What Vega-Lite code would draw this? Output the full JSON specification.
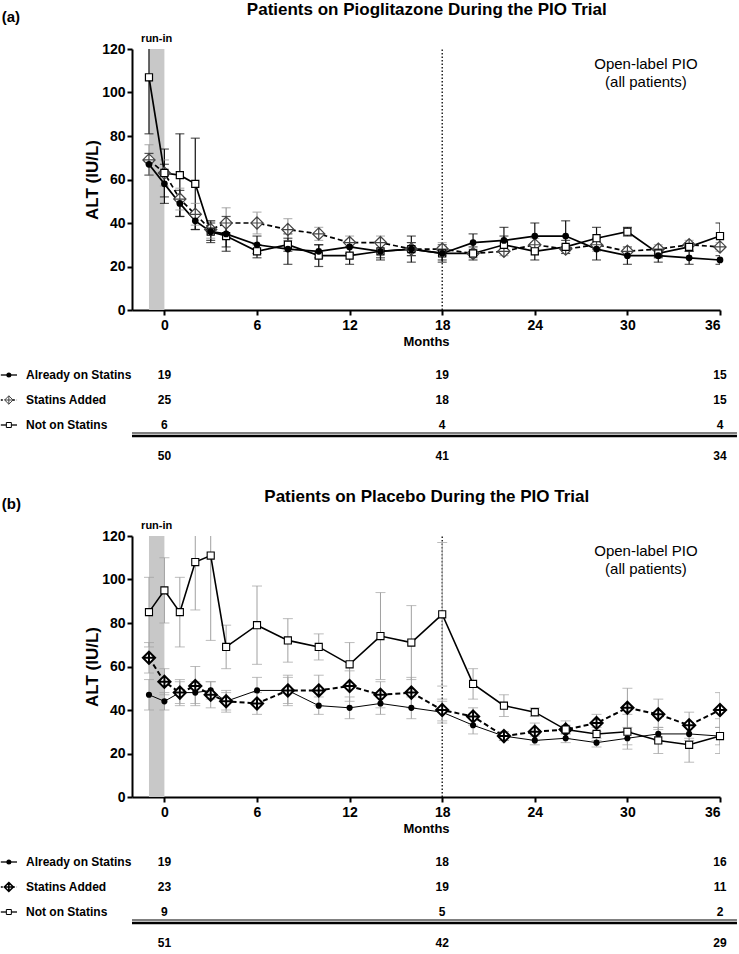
{
"$schema": "https://vega.github.io/schema/vega-lite/v6.json",
"padding": 0,
"config": {"view": {"stroke": null}, "font": "Liberation Sans",
 "axis": {"domainColor": "black", "domainWidth": 2, "tickColor": "black", "tickWidth": 2, "tickSize": 5, "labelFont": "Liberation Sans", "labelFontWeight": "bold", "labelFontSize": 14, "labelColor": "black", "titleFont": "Liberation Sans", "titleFontWeight": "bold", "titleColor": "black", "grid": false}},
"datasets": {
"one": [{"k": 1}],
"series": [
{"panel":"a","group":"Already on Statins","month":-1,"alt":67,"lo":62,"hi":72},
{"panel":"a","group":"Already on Statins","month":0,"alt":58,"lo":49,"hi":67},
{"panel":"a","group":"Already on Statins","month":1,"alt":49,"lo":43,"hi":55},
{"panel":"a","group":"Already on Statins","month":2,"alt":41,"lo":37,"hi":45},
{"panel":"a","group":"Already on Statins","month":3,"alt":36,"lo":32,"hi":40},
{"panel":"a","group":"Already on Statins","month":4,"alt":35,"lo":27,"hi":43},
{"panel":"a","group":"Already on Statins","month":6,"alt":30,"lo":26,"hi":34},
{"panel":"a","group":"Already on Statins","month":8,"alt":28,"lo":21,"hi":35},
{"panel":"a","group":"Already on Statins","month":10,"alt":27,"lo":24,"hi":30},
{"panel":"a","group":"Already on Statins","month":12,"alt":29,"lo":26,"hi":32},
{"panel":"a","group":"Already on Statins","month":14,"alt":27,"lo":23,"hi":31},
{"panel":"a","group":"Already on Statins","month":16,"alt":28,"lo":22,"hi":34},
{"panel":"a","group":"Already on Statins","month":18,"alt":26,"lo":22,"hi":30},
{"panel":"a","group":"Already on Statins","month":20,"alt":31,"lo":27,"hi":35},
{"panel":"a","group":"Already on Statins","month":22,"alt":32,"lo":26,"hi":38},
{"panel":"a","group":"Already on Statins","month":24,"alt":34,"lo":28,"hi":40},
{"panel":"a","group":"Already on Statins","month":26,"alt":34,"lo":27,"hi":41},
{"panel":"a","group":"Already on Statins","month":28,"alt":28,"lo":23,"hi":33},
{"panel":"a","group":"Already on Statins","month":30,"alt":25,"lo":21,"hi":29},
{"panel":"a","group":"Already on Statins","month":32,"alt":25,"lo":22,"hi":28},
{"panel":"a","group":"Already on Statins","month":34,"alt":24,"lo":21,"hi":27},
{"panel":"a","group":"Already on Statins","month":36,"alt":23,"lo":21,"hi":25},
{"panel":"a","group":"Statins Added","month":-1,"alt":69,"lo":62,"hi":76},
{"panel":"a","group":"Statins Added","month":0,"alt":63,"lo":57,"hi":69},
{"panel":"a","group":"Statins Added","month":1,"alt":51,"lo":46,"hi":56},
{"panel":"a","group":"Statins Added","month":2,"alt":44,"lo":39,"hi":49},
{"panel":"a","group":"Statins Added","month":3,"alt":37,"lo":33,"hi":41},
{"panel":"a","group":"Statins Added","month":4,"alt":40,"lo":33,"hi":47},
{"panel":"a","group":"Statins Added","month":6,"alt":40,"lo":35,"hi":45},
{"panel":"a","group":"Statins Added","month":8,"alt":37,"lo":32,"hi":42},
{"panel":"a","group":"Statins Added","month":10,"alt":35,"lo":32,"hi":38},
{"panel":"a","group":"Statins Added","month":12,"alt":31,"lo":29,"hi":34},
{"panel":"a","group":"Statins Added","month":14,"alt":31,"lo":28,"hi":34},
{"panel":"a","group":"Statins Added","month":16,"alt":28,"lo":25,"hi":31},
{"panel":"a","group":"Statins Added","month":18,"alt":28,"lo":25,"hi":31},
{"panel":"a","group":"Statins Added","month":20,"alt":26,"lo":24,"hi":28},
{"panel":"a","group":"Statins Added","month":22,"alt":27,"lo":25,"hi":29},
{"panel":"a","group":"Statins Added","month":24,"alt":30,"lo":27,"hi":33},
{"panel":"a","group":"Statins Added","month":26,"alt":28,"lo":26,"hi":30},
{"panel":"a","group":"Statins Added","month":28,"alt":30,"lo":27,"hi":33},
{"panel":"a","group":"Statins Added","month":30,"alt":27,"lo":25,"hi":29},
{"panel":"a","group":"Statins Added","month":32,"alt":28,"lo":26,"hi":30},
{"panel":"a","group":"Statins Added","month":34,"alt":30,"lo":28,"hi":32},
{"panel":"a","group":"Statins Added","month":36,"alt":29,"lo":27,"hi":31},
{"panel":"a","group":"Not on Statins","month":-1,"alt":107,"lo":81,"hi":133},
{"panel":"a","group":"Not on Statins","month":0,"alt":63,"lo":52,"hi":74},
{"panel":"a","group":"Not on Statins","month":1,"alt":62,"lo":43,"hi":81},
{"panel":"a","group":"Not on Statins","month":2,"alt":58,"lo":37,"hi":79},
{"panel":"a","group":"Not on Statins","month":3,"alt":36,"lo":31,"hi":41},
{"panel":"a","group":"Not on Statins","month":4,"alt":34,"lo":29,"hi":39},
{"panel":"a","group":"Not on Statins","month":6,"alt":27,"lo":24,"hi":30},
{"panel":"a","group":"Not on Statins","month":8,"alt":30,"lo":27,"hi":33},
{"panel":"a","group":"Not on Statins","month":10,"alt":25,"lo":20,"hi":30},
{"panel":"a","group":"Not on Statins","month":12,"alt":25,"lo":21,"hi":29},
{"panel":"a","group":"Not on Statins","month":14,"alt":27,"lo":24,"hi":30},
{"panel":"a","group":"Not on Statins","month":16,"alt":28,"lo":25,"hi":31},
{"panel":"a","group":"Not on Statins","month":18,"alt":26,"lo":23,"hi":29},
{"panel":"a","group":"Not on Statins","month":20,"alt":26,"lo":23,"hi":29},
{"panel":"a","group":"Not on Statins","month":22,"alt":30,"lo":26,"hi":34},
{"panel":"a","group":"Not on Statins","month":24,"alt":27,"lo":23,"hi":31},
{"panel":"a","group":"Not on Statins","month":26,"alt":29,"lo":26,"hi":32},
{"panel":"a","group":"Not on Statins","month":28,"alt":33,"lo":28,"hi":38},
{"panel":"a","group":"Not on Statins","month":30,"alt":36,"lo":34,"hi":38},
{"panel":"a","group":"Not on Statins","month":32,"alt":26,"lo":24,"hi":28},
{"panel":"a","group":"Not on Statins","month":34,"alt":29,"lo":27,"hi":31},
{"panel":"a","group":"Not on Statins","month":36,"alt":34,"lo":28,"hi":40},
{"panel":"b","group":"Already on Statins","month":-1,"alt":47,"lo":40,"hi":54},
{"panel":"b","group":"Already on Statins","month":0,"alt":44,"lo":40,"hi":48},
{"panel":"b","group":"Already on Statins","month":1,"alt":48,"lo":43,"hi":53},
{"panel":"b","group":"Already on Statins","month":2,"alt":48,"lo":43,"hi":53},
{"panel":"b","group":"Already on Statins","month":3,"alt":49,"lo":45,"hi":53},
{"panel":"b","group":"Already on Statins","month":4,"alt":44,"lo":40,"hi":48},
{"panel":"b","group":"Already on Statins","month":6,"alt":49,"lo":43,"hi":55},
{"panel":"b","group":"Already on Statins","month":8,"alt":49,"lo":43,"hi":55},
{"panel":"b","group":"Already on Statins","month":10,"alt":42,"lo":38,"hi":46},
{"panel":"b","group":"Already on Statins","month":12,"alt":41,"lo":36,"hi":46},
{"panel":"b","group":"Already on Statins","month":14,"alt":43,"lo":38,"hi":48},
{"panel":"b","group":"Already on Statins","month":16,"alt":41,"lo":36,"hi":46},
{"panel":"b","group":"Already on Statins","month":18,"alt":39,"lo":34,"hi":44},
{"panel":"b","group":"Already on Statins","month":20,"alt":33,"lo":29,"hi":37},
{"panel":"b","group":"Already on Statins","month":22,"alt":28,"lo":26,"hi":30},
{"panel":"b","group":"Already on Statins","month":24,"alt":26,"lo":24,"hi":28},
{"panel":"b","group":"Already on Statins","month":26,"alt":27,"lo":25,"hi":29},
{"panel":"b","group":"Already on Statins","month":28,"alt":25,"lo":23,"hi":27},
{"panel":"b","group":"Already on Statins","month":30,"alt":27,"lo":24,"hi":30},
{"panel":"b","group":"Already on Statins","month":32,"alt":29,"lo":26,"hi":32},
{"panel":"b","group":"Already on Statins","month":34,"alt":29,"lo":26,"hi":32},
{"panel":"b","group":"Already on Statins","month":36,"alt":28,"lo":24,"hi":32},
{"panel":"b","group":"Statins Added","month":-1,"alt":64,"lo":57,"hi":71},
{"panel":"b","group":"Statins Added","month":0,"alt":53,"lo":47,"hi":59},
{"panel":"b","group":"Statins Added","month":1,"alt":48,"lo":42,"hi":54},
{"panel":"b","group":"Statins Added","month":2,"alt":51,"lo":42,"hi":60},
{"panel":"b","group":"Statins Added","month":3,"alt":47,"lo":41,"hi":53},
{"panel":"b","group":"Statins Added","month":4,"alt":44,"lo":39,"hi":49},
{"panel":"b","group":"Statins Added","month":6,"alt":43,"lo":38,"hi":48},
{"panel":"b","group":"Statins Added","month":8,"alt":49,"lo":42,"hi":56},
{"panel":"b","group":"Statins Added","month":10,"alt":49,"lo":42,"hi":56},
{"panel":"b","group":"Statins Added","month":12,"alt":51,"lo":44,"hi":58},
{"panel":"b","group":"Statins Added","month":14,"alt":47,"lo":41,"hi":53},
{"panel":"b","group":"Statins Added","month":16,"alt":48,"lo":41,"hi":55},
{"panel":"b","group":"Statins Added","month":18,"alt":40,"lo":35,"hi":45},
{"panel":"b","group":"Statins Added","month":20,"alt":37,"lo":33,"hi":41},
{"panel":"b","group":"Statins Added","month":22,"alt":28,"lo":26,"hi":30},
{"panel":"b","group":"Statins Added","month":24,"alt":30,"lo":26,"hi":34},
{"panel":"b","group":"Statins Added","month":26,"alt":31,"lo":29,"hi":33},
{"panel":"b","group":"Statins Added","month":28,"alt":34,"lo":30,"hi":38},
{"panel":"b","group":"Statins Added","month":30,"alt":41,"lo":32,"hi":50},
{"panel":"b","group":"Statins Added","month":32,"alt":38,"lo":31,"hi":45},
{"panel":"b","group":"Statins Added","month":34,"alt":33,"lo":27,"hi":39},
{"panel":"b","group":"Statins Added","month":36,"alt":40,"lo":32,"hi":48},
{"panel":"b","group":"Not on Statins","month":-1,"alt":85,"lo":69,"hi":101},
{"panel":"b","group":"Not on Statins","month":0,"alt":95,"lo":80,"hi":110},
{"panel":"b","group":"Not on Statins","month":1,"alt":85,"lo":69,"hi":101},
{"panel":"b","group":"Not on Statins","month":2,"alt":108,"lo":86,"hi":130},
{"panel":"b","group":"Not on Statins","month":3,"alt":111,"lo":72,"hi":150},
{"panel":"b","group":"Not on Statins","month":4,"alt":69,"lo":59,"hi":79},
{"panel":"b","group":"Not on Statins","month":6,"alt":79,"lo":61,"hi":97},
{"panel":"b","group":"Not on Statins","month":8,"alt":72,"lo":62,"hi":82},
{"panel":"b","group":"Not on Statins","month":10,"alt":69,"lo":63,"hi":75},
{"panel":"b","group":"Not on Statins","month":12,"alt":61,"lo":51,"hi":71},
{"panel":"b","group":"Not on Statins","month":14,"alt":74,"lo":54,"hi":94},
{"panel":"b","group":"Not on Statins","month":16,"alt":71,"lo":54,"hi":88},
{"panel":"b","group":"Not on Statins","month":18,"alt":84,"lo":51,"hi":117},
{"panel":"b","group":"Not on Statins","month":20,"alt":52,"lo":45,"hi":59},
{"panel":"b","group":"Not on Statins","month":22,"alt":42,"lo":37,"hi":47},
{"panel":"b","group":"Not on Statins","month":24,"alt":39,"lo":37,"hi":41},
{"panel":"b","group":"Not on Statins","month":26,"alt":31,"lo":27,"hi":35},
{"panel":"b","group":"Not on Statins","month":28,"alt":29,"lo":26,"hi":32},
{"panel":"b","group":"Not on Statins","month":30,"alt":30,"lo":22,"hi":38},
{"panel":"b","group":"Not on Statins","month":32,"alt":26,"lo":20,"hi":32},
{"panel":"b","group":"Not on Statins","month":34,"alt":24,"lo":16,"hi":32},
{"panel":"b","group":"Not on Statins","month":36,"alt":28,"lo":20,"hi":36}
],
"table": [
{"panel":"a","row":"Already on Statins","month":0,"n":19},{"panel":"a","row":"Already on Statins","month":18,"n":19},{"panel":"a","row":"Already on Statins","month":36,"n":15},
{"panel":"a","row":"Statins Added","month":0,"n":25},{"panel":"a","row":"Statins Added","month":18,"n":18},{"panel":"a","row":"Statins Added","month":36,"n":15},
{"panel":"a","row":"Not on Statins","month":0,"n":6},{"panel":"a","row":"Not on Statins","month":18,"n":4},{"panel":"a","row":"Not on Statins","month":36,"n":4},
{"panel":"a","row":"Total","month":0,"n":50},{"panel":"a","row":"Total","month":18,"n":41},{"panel":"a","row":"Total","month":36,"n":34},
{"panel":"b","row":"Already on Statins","month":0,"n":19},{"panel":"b","row":"Already on Statins","month":18,"n":18},{"panel":"b","row":"Already on Statins","month":36,"n":16},
{"panel":"b","row":"Statins Added","month":0,"n":23},{"panel":"b","row":"Statins Added","month":18,"n":19},{"panel":"b","row":"Statins Added","month":36,"n":11},
{"panel":"b","row":"Not on Statins","month":0,"n":9},{"panel":"b","row":"Not on Statins","month":18,"n":5},{"panel":"b","row":"Not on Statins","month":36,"n":2},
{"panel":"b","row":"Total","month":0,"n":51},{"panel":"b","row":"Total","month":18,"n":42},{"panel":"b","row":"Total","month":36,"n":29}
]
},
"spacing": 25,
"vconcat": [
{"spacing": 21, "vconcat": [
 {"width": 588, "height": 261,
  "layer": [
   {"data": {"name": "one"}, "mark": {"type": "rect", "color": "#c8c8c8"},
    "encoding": {
     "x": {"datum": -1, "type": "quantitative", "scale": {"domain": [-2.1, 36], "nice": false, "zero": false}, "axis": {"values": [0,6,12,18,24,30,36], "title": "Months", "titleFontSize": 13, "titlePadding": 3, "labelPadding": 3}},
     "x2": {"datum": 0},
     "y": {"datum": 0, "type": "quantitative", "scale": {"domain": [0, 120], "nice": false, "zero": false}, "axis": {"values": [0,20,40,60,80,100,120], "title": "ALT (IU/L)", "titleFontSize": 17, "titlePadding": 0}},
     "y2": {"datum": 120}}},
   {"data": {"name": "one"}, "mark": {"type": "rule", "strokeDash": [1.5, 2], "strokeWidth": 1.3, "color": "black"}, "encoding": {"x": {"datum": 18}, "y": {"datum": 0}, "y2": {"datum": 120}}},
   {"data": {"name": "one"}, "mark": {"type": "text", "text": "run-in", "fontWeight": "bold", "fontSize": 11}, "encoding": {"x": {"datum": -0.5}, "y": {"datum": 124.5}}},
   {"data": {"name": "one"}, "mark": {"type": "text", "text": "Open-label PIO", "fontSize": 15}, "encoding": {"x": {"datum": 31.2}, "y": {"datum": 113.2}}},
   {"data": {"name": "one"}, "mark": {"type": "text", "text": "(all patients)", "fontSize": 15}, "encoding": {"x": {"datum": 31.2}, "y": {"datum": 104.9}}},
   {"data": {"name": "one"}, "mark": {"type": "text", "text": "Patients on Pioglitazone During the PIO Trial", "fontSize": 17, "fontWeight": "bold", "baseline": "alphabetic"}, "encoding": {"x": {"datum": 17}, "y": {"datum": 135.8}}},
   {"data": {"name": "one"}, "mark": {"type": "text", "text": "(a)", "fontSize": 15, "fontWeight": "bold", "baseline": "alphabetic", "align": "left"}, "encoding": {"x": {"datum": -10.54}, "y": {"datum": 132.6}}},
   {"data": {"name": "series"}, "transform": [{"filter": "datum.panel == 'a'"}], "mark": {"type": "rule", "strokeWidth": 1.2, "clip": true}, "encoding": {"x": {"field": "month", "type": "quantitative"}, "y": {"field": "lo", "type": "quantitative"}, "y2": {"field": "hi"}, "color": {"field": "group", "type": "nominal", "scale": {"domain": ["Already on Statins", "Statins Added", "Not on Statins"], "range": ["#111111", "#999999", "#111111"]}, "legend": null}}},
   {"data": {"name": "series"}, "transform": [{"filter": "datum.panel == 'a'"}], "mark": {"type": "tick", "orient": "horizontal", "size": 9, "thickness": 1.2, "clip": true}, "encoding": {"x": {"field": "month", "type": "quantitative"}, "y": {"field": "lo", "type": "quantitative"}, "color": {"field": "group", "type": "nominal", "legend": null}}},
   {"data": {"name": "series"}, "transform": [{"filter": "datum.panel == 'a'"}], "mark": {"type": "tick", "orient": "horizontal", "size": 9, "thickness": 1.2, "clip": true}, "encoding": {"x": {"field": "month", "type": "quantitative"}, "y": {"field": "hi", "type": "quantitative"}, "color": {"field": "group", "type": "nominal", "legend": null}}},
   {"data": {"name": "series"}, "transform": [{"filter": "datum.panel == 'a' && datum.group != 'Statins Added'"}], "mark": {"type": "line", "color": "black", "strokeWidth": 1.7}, "encoding": {"x": {"field": "month", "type": "quantitative"}, "y": {"field": "alt", "type": "quantitative"}, "detail": {"field": "group"}}},
   {"data": {"name": "series"}, "transform": [{"filter": "datum.panel == 'a' && datum.group == 'Statins Added'"}], "mark": {"type": "line", "color": "black", "strokeWidth": 1.7, "strokeDash": [5, 3]}, "encoding": {"x": {"field": "month", "type": "quantitative"}, "y": {"field": "alt", "type": "quantitative"}}},
   {"data": {"name": "series"}, "transform": [{"filter": "datum.panel == 'a' && datum.group == 'Statins Added'"}], "mark": {"type": "point", "shape": "M0,-1L1,0L0,1L-1,0ZM-1,0L1,0M0,-1L0,1", "filled": false, "fill": "white", "fillOpacity": 1, "stroke": "#444444", "strokeWidth": 1.2, "size": 150, "opacity": 1}, "encoding": {"x": {"field": "month", "type": "quantitative"}, "y": {"field": "alt", "type": "quantitative"}}},
   {"data": {"name": "series"}, "transform": [{"filter": "datum.panel == 'a' && datum.group == 'Not on Statins'"}], "mark": {"type": "point", "shape": "square", "filled": false, "fill": "white", "fillOpacity": 1, "stroke": "black", "strokeWidth": 1.2, "size": 50, "opacity": 1}, "encoding": {"x": {"field": "month", "type": "quantitative"}, "y": {"field": "alt", "type": "quantitative"}}},
   {"data": {"name": "series"}, "transform": [{"filter": "datum.panel == 'a' && datum.group == 'Already on Statins'"}], "mark": {"type": "point", "shape": "circle", "filled": true, "color": "black", "size": 45, "opacity": 1}, "encoding": {"x": {"field": "month", "type": "quantitative"}, "y": {"field": "alt", "type": "quantitative"}}}
  ]},
 {"width": 588, "height": 75,
  "layer": [
   {"data": {"name": "table"}, "transform": [{"filter": "datum.panel == 'a' && datum.row != 'Total'"}], "mark": {"type": "text", "fontWeight": "bold", "fontSize": 12},
    "encoding": {
     "x": {"field": "month", "type": "quantitative", "scale": {"domain": [-2.1, 36], "nice": false, "zero": false}, "axis": null},
     "y": {"field": "row", "type": "ordinal", "scale": {"type": "point", "domain": ["Already on Statins", "Statins Added", "Not on Statins", "Total"], "padding": 0}, "axis": null},
     "text": {"field": "n"}}},
   {"data": {"name": "table"}, "transform": [{"filter": "datum.panel == 'a' && datum.row == 'Total'"}], "mark": {"type": "text", "fontWeight": "bold", "fontSize": 12, "dy": 6}, "encoding": {"x": {"field": "month", "type": "quantitative"}, "y": {"field": "row", "type": "ordinal"}, "text": {"field": "n"}}},
   {"data": {"name": "table"}, "transform": [{"filter": "datum.panel == 'a' && datum.row != 'Total' && datum.month == 0"}], "mark": {"type": "text", "fontWeight": "bold", "fontSize": 12, "align": "left"}, "encoding": {"x": {"datum": -8.97}, "y": {"field": "row", "type": "ordinal"}, "text": {"field": "row"}}},
   {"data": {"name": "table"}, "transform": [{"filter": "datum.panel == 'a' && datum.row != 'Total' && datum.month == 0 && datum.row != 'Statins Added'"}], "mark": {"type": "rule", "color": "black", "strokeWidth": 1.3}, "encoding": {"x": {"datum": -10.6}, "x2": {"datum": -9.55}, "y": {"field": "row", "type": "ordinal"}}},
   {"data": {"name": "table"}, "transform": [{"filter": "datum.panel == 'a' && datum.month == 0 && datum.row == 'Statins Added'"}], "mark": {"type": "rule", "color": "black", "strokeWidth": 1.3, "strokeDash": [2, 2]}, "encoding": {"x": {"datum": -10.6}, "x2": {"datum": -9.55}, "y": {"field": "row", "type": "ordinal"}}},
   {"data": {"name": "table"}, "transform": [{"filter": "datum.panel == 'a' && datum.month == 0 && datum.row == 'Already on Statins'"}], "mark": {"type": "point", "shape": "circle", "filled": true, "color": "black", "size": 25, "opacity": 1}, "encoding": {"x": {"datum": -10.08}, "y": {"field": "row", "type": "ordinal"}}},
   {"data": {"name": "table"}, "transform": [{"filter": "datum.panel == 'a' && datum.month == 0 && datum.row == 'Statins Added'"}], "mark": {"type": "point", "shape": "M0,-1L1,0L0,1L-1,0ZM-1,0L1,0M0,-1L0,1", "filled": false, "fill": "white", "fillOpacity": 1, "stroke": "#444444", "strokeWidth": 1, "size": 70, "opacity": 1}, "encoding": {"x": {"datum": -10.08}, "y": {"field": "row", "type": "ordinal"}}},
   {"data": {"name": "table"}, "transform": [{"filter": "datum.panel == 'a' && datum.month == 0 && datum.row == 'Not on Statins'"}], "mark": {"type": "point", "shape": "square", "filled": false, "fill": "white", "fillOpacity": 1, "stroke": "black", "strokeWidth": 1, "size": 25, "opacity": 1}, "encoding": {"x": {"datum": -10.08}, "y": {"field": "row", "type": "ordinal"}}},
   {"data": {"name": "one"}, "mark": {"type": "rule", "color": "black", "strokeWidth": 1, "yOffset": -17}, "encoding": {"x": {"datum": -2.1}, "x2": {"datum": 37.1}, "y": {"datum": "Total"}}},
   {"data": {"name": "one"}, "mark": {"type": "rule", "color": "black", "strokeWidth": 2.5, "yOffset": -14}, "encoding": {"x": {"datum": -2.1}, "x2": {"datum": 37.1}, "y": {"datum": "Total"}}}
  ]}
]},
{"spacing": 21, "vconcat": [
 {"width": 588, "height": 261,
  "layer": [
   {"data": {"name": "one"}, "mark": {"type": "rect", "color": "#c8c8c8"},
    "encoding": {
     "x": {"datum": -1, "type": "quantitative", "scale": {"domain": [-2.1, 36], "nice": false, "zero": false}, "axis": {"values": [0,6,12,18,24,30,36], "title": "Months", "titleFontSize": 13, "titlePadding": 3, "labelPadding": 3}},
     "x2": {"datum": 0},
     "y": {"datum": 0, "type": "quantitative", "scale": {"domain": [0, 120], "nice": false, "zero": false}, "axis": {"values": [0,20,40,60,80,100,120], "title": "ALT (IU/L)", "titleFontSize": 17, "titlePadding": 0}},
     "y2": {"datum": 120}}},
   {"data": {"name": "one"}, "mark": {"type": "rule", "strokeDash": [1.5, 2], "strokeWidth": 1.3, "color": "black"}, "encoding": {"x": {"datum": 18}, "y": {"datum": 0}, "y2": {"datum": 120}}},
   {"data": {"name": "one"}, "mark": {"type": "text", "text": "run-in", "fontWeight": "bold", "fontSize": 11}, "encoding": {"x": {"datum": -0.5}, "y": {"datum": 124.5}}},
   {"data": {"name": "one"}, "mark": {"type": "text", "text": "Open-label PIO", "fontSize": 15}, "encoding": {"x": {"datum": 31.2}, "y": {"datum": 113.2}}},
   {"data": {"name": "one"}, "mark": {"type": "text", "text": "(all patients)", "fontSize": 15}, "encoding": {"x": {"datum": 31.2}, "y": {"datum": 104.9}}},
   {"data": {"name": "one"}, "mark": {"type": "text", "text": "Patients on Placebo During the PIO Trial", "fontSize": 17, "fontWeight": "bold", "baseline": "alphabetic"}, "encoding": {"x": {"datum": 17}, "y": {"datum": 135.8}}},
   {"data": {"name": "one"}, "mark": {"type": "text", "text": "(b)", "fontSize": 15, "fontWeight": "bold", "baseline": "alphabetic", "align": "left"}, "encoding": {"x": {"datum": -10.54}, "y": {"datum": 132.6}}},
   {"data": {"name": "series"}, "transform": [{"filter": "datum.panel == 'b'"}], "mark": {"type": "rule", "strokeWidth": 1, "clip": true, "color": "#a0a0a0"}, "encoding": {"x": {"field": "month", "type": "quantitative"}, "y": {"field": "lo", "type": "quantitative"}, "y2": {"field": "hi"}}},
   {"data": {"name": "series"}, "transform": [{"filter": "datum.panel == 'b'"}], "mark": {"type": "tick", "orient": "horizontal", "size": 10, "thickness": 1, "clip": true, "color": "#a0a0a0"}, "encoding": {"x": {"field": "month", "type": "quantitative"}, "y": {"field": "lo", "type": "quantitative"}}},
   {"data": {"name": "series"}, "transform": [{"filter": "datum.panel == 'b'"}], "mark": {"type": "tick", "orient": "horizontal", "size": 10, "thickness": 1, "clip": true, "color": "#a0a0a0"}, "encoding": {"x": {"field": "month", "type": "quantitative"}, "y": {"field": "hi", "type": "quantitative"}}},
   {"data": {"name": "series"}, "transform": [{"filter": "datum.panel == 'b' && datum.group == 'Not on Statins'"}], "mark": {"type": "line", "color": "black", "strokeWidth": 1.6}, "encoding": {"x": {"field": "month", "type": "quantitative"}, "y": {"field": "alt", "type": "quantitative"}}},
   {"data": {"name": "series"}, "transform": [{"filter": "datum.panel == 'b' && datum.group == 'Already on Statins'"}], "mark": {"type": "line", "color": "black", "strokeWidth": 1}, "encoding": {"x": {"field": "month", "type": "quantitative"}, "y": {"field": "alt", "type": "quantitative"}}},
   {"data": {"name": "series"}, "transform": [{"filter": "datum.panel == 'b' && datum.group == 'Statins Added'"}], "mark": {"type": "line", "color": "black", "strokeWidth": 2, "strokeDash": [5, 3]}, "encoding": {"x": {"field": "month", "type": "quantitative"}, "y": {"field": "alt", "type": "quantitative"}}},
   {"data": {"name": "series"}, "transform": [{"filter": "datum.panel == 'b' && datum.group == 'Already on Statins'"}], "mark": {"type": "point", "shape": "circle", "filled": true, "color": "black", "size": 38, "opacity": 1}, "encoding": {"x": {"field": "month", "type": "quantitative"}, "y": {"field": "alt", "type": "quantitative"}}},
   {"data": {"name": "series"}, "transform": [{"filter": "datum.panel == 'b' && datum.group == 'Statins Added'"}], "mark": {"type": "point", "shape": "M0,-1L1,0L0,1L-1,0ZM-1,0L1,0M0,-1L0,1", "filled": false, "fill": "white", "fillOpacity": 1, "stroke": "black", "strokeWidth": 2, "size": 150, "opacity": 1}, "encoding": {"x": {"field": "month", "type": "quantitative"}, "y": {"field": "alt", "type": "quantitative"}}},
   {"data": {"name": "series"}, "transform": [{"filter": "datum.panel == 'b' && datum.group == 'Not on Statins'"}], "mark": {"type": "point", "shape": "square", "filled": false, "fill": "white", "fillOpacity": 1, "stroke": "black", "strokeWidth": 1.1, "size": 50, "opacity": 1}, "encoding": {"x": {"field": "month", "type": "quantitative"}, "y": {"field": "alt", "type": "quantitative"}}}
  ]},
 {"width": 588, "height": 75,
  "layer": [
   {"data": {"name": "table"}, "transform": [{"filter": "datum.panel == 'b' && datum.row != 'Total'"}], "mark": {"type": "text", "fontWeight": "bold", "fontSize": 12},
    "encoding": {
     "x": {"field": "month", "type": "quantitative", "scale": {"domain": [-2.1, 36], "nice": false, "zero": false}, "axis": null},
     "y": {"field": "row", "type": "ordinal", "scale": {"type": "point", "domain": ["Already on Statins", "Statins Added", "Not on Statins", "Total"], "padding": 0}, "axis": null},
     "text": {"field": "n"}}},
   {"data": {"name": "table"}, "transform": [{"filter": "datum.panel == 'b' && datum.row == 'Total'"}], "mark": {"type": "text", "fontWeight": "bold", "fontSize": 12, "dy": 6}, "encoding": {"x": {"field": "month", "type": "quantitative"}, "y": {"field": "row", "type": "ordinal"}, "text": {"field": "n"}}},
   {"data": {"name": "table"}, "transform": [{"filter": "datum.panel == 'b' && datum.row != 'Total' && datum.month == 0"}], "mark": {"type": "text", "fontWeight": "bold", "fontSize": 12, "align": "left"}, "encoding": {"x": {"datum": -8.97}, "y": {"field": "row", "type": "ordinal"}, "text": {"field": "row"}}},
   {"data": {"name": "table"}, "transform": [{"filter": "datum.panel == 'b' && datum.row != 'Total' && datum.month == 0 && datum.row != 'Statins Added'"}], "mark": {"type": "rule", "color": "black", "strokeWidth": 1.3}, "encoding": {"x": {"datum": -10.6}, "x2": {"datum": -9.55}, "y": {"field": "row", "type": "ordinal"}}},
   {"data": {"name": "table"}, "transform": [{"filter": "datum.panel == 'b' && datum.month == 0 && datum.row == 'Statins Added'"}], "mark": {"type": "rule", "color": "black", "strokeWidth": 1.5, "strokeDash": [2, 2]}, "encoding": {"x": {"datum": -10.6}, "x2": {"datum": -9.55}, "y": {"field": "row", "type": "ordinal"}}},
   {"data": {"name": "table"}, "transform": [{"filter": "datum.panel == 'b' && datum.month == 0 && datum.row == 'Already on Statins'"}], "mark": {"type": "point", "shape": "circle", "filled": true, "color": "black", "size": 25, "opacity": 1}, "encoding": {"x": {"datum": -10.08}, "y": {"field": "row", "type": "ordinal"}}},
   {"data": {"name": "table"}, "transform": [{"filter": "datum.panel == 'b' && datum.month == 0 && datum.row == 'Statins Added'"}], "mark": {"type": "point", "shape": "M0,-1L1,0L0,1L-1,0ZM-1,0L1,0M0,-1L0,1", "filled": false, "fill": "white", "fillOpacity": 1, "stroke": "black", "strokeWidth": 1.6, "size": 80, "opacity": 1}, "encoding": {"x": {"datum": -10.08}, "y": {"field": "row", "type": "ordinal"}}},
   {"data": {"name": "table"}, "transform": [{"filter": "datum.panel == 'b' && datum.month == 0 && datum.row == 'Not on Statins'"}], "mark": {"type": "point", "shape": "square", "filled": false, "fill": "white", "fillOpacity": 1, "stroke": "black", "strokeWidth": 1, "size": 25, "opacity": 1}, "encoding": {"x": {"datum": -10.08}, "y": {"field": "row", "type": "ordinal"}}},
   {"data": {"name": "one"}, "mark": {"type": "rule", "color": "black", "strokeWidth": 1, "yOffset": -17}, "encoding": {"x": {"datum": -2.1}, "x2": {"datum": 37.1}, "y": {"datum": "Total"}}},
   {"data": {"name": "one"}, "mark": {"type": "rule", "color": "black", "strokeWidth": 2.5, "yOffset": -14}, "encoding": {"x": {"datum": -2.1}, "x2": {"datum": 37.1}, "y": {"datum": "Total"}}}
  ]}
]}
]
}
